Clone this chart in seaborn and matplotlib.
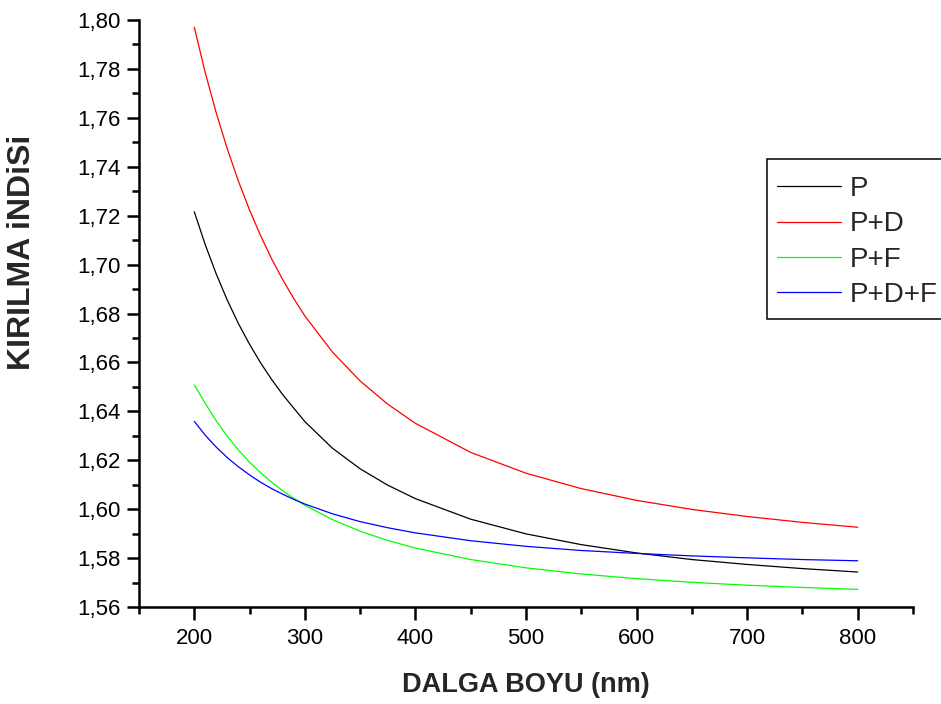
import numpy as np
import pandas as pd
import matplotlib
matplotlib.use("Agg")
import matplotlib.pyplot as plt
import seaborn as sns
from matplotlib.patches import Rectangle
from matplotlib.ticker import MultipleLocator, FixedLocator

# Wavelength (nm)
wavelength = [200, 210, 220, 230, 240, 250, 260, 270, 280, 290, 300,
              325, 350, 375, 400, 450, 500, 550, 600, 650, 700, 750, 800]

# Refractive index of each film
n_P = [1.7216, 1.7080, 1.6960, 1.6853, 1.6758, 1.6674, 1.6598, 1.6530,
       1.6468, 1.6413, 1.6358, 1.6249, 1.6165, 1.6098, 1.6043, 1.5959,
       1.5899, 1.5855, 1.5821, 1.5794, 1.5774, 1.5757, 1.5743]
n_PD = [1.7970, 1.7783, 1.7618, 1.7471, 1.7340, 1.7223, 1.7118, 1.7023,
        1.6938, 1.6861, 1.6790, 1.6642, 1.6524, 1.6429, 1.6351, 1.6232,
        1.6147, 1.6084, 1.6036, 1.5999, 1.5970, 1.5946, 1.5926]
n_PF = [1.6508, 1.6432, 1.6360, 1.6297, 1.6241, 1.6192, 1.6149, 1.6110,
        1.6075, 1.6044, 1.6016, 1.5957, 1.5910, 1.5872, 1.5841, 1.5794,
        1.5760, 1.5735, 1.5716, 1.5701, 1.5689, 1.5680, 1.5672]
n_PDF = [1.6359, 1.6302, 1.6253, 1.6210, 1.6173, 1.6140, 1.6110, 1.6084,
         1.6061, 1.6040, 1.6021, 1.5981, 1.5949, 1.5924, 1.5903, 1.5871,
         1.5848, 1.5831, 1.5819, 1.5809, 1.5801, 1.5794, 1.5789]

series_names = ["P", "P+D", "P+F", "P+D+F"]
series_colors = ["#000000", "#FF0000", "#00FF00", "#0000FF"]

x_major_ticks = [200, 300, 400, 500, 600, 700, 800]
y_major_ticks = [1.56, 1.58, 1.60, 1.62, 1.64, 1.66, 1.68, 1.70, 1.72,
                 1.74, 1.76, 1.78, 1.80]
y_tick_labels = [f"{v:.2f}".replace(".", ",") for v in y_major_ticks]

frames = []
for name, vals in zip(series_names, [n_P, n_PD, n_PF, n_PDF]):
    frames.append(pd.DataFrame({"wl": wavelength, "n": vals, "film": name}))
df = pd.concat(frames, ignore_index=True)

sns.set_style("ticks")
plt.rcParams["font.family"] = ["Liberation Sans", "DejaVu Sans"]

W, H = 941, 704
fig = plt.figure(figsize=(W / 100, H / 100), dpi=100)
ax = fig.add_axes([139 / W, 1 - 607 / H, (913 - 139) / W, (607 - 20) / H])

sns.lineplot(data=df, x="wl", y="n", hue="film", hue_order=series_names,
             palette=series_colors, linewidth=0.9, ax=ax, legend=False)

ax.set_xlim(150, 850)
ax.set_ylim(1.56, 1.80)
ax.xaxis.set_major_locator(FixedLocator(x_major_ticks))
ax.xaxis.set_minor_locator(MultipleLocator(50))
ax.yaxis.set_major_locator(FixedLocator(y_major_ticks))
ax.set_yticklabels(y_tick_labels)
ax.yaxis.set_minor_locator(MultipleLocator(0.01))

for side in ["top", "right"]:
    ax.spines[side].set_visible(False)
for side in ["left", "bottom"]:
    ax.spines[side].set_linewidth(1.8)
    ax.spines[side].set_color("black")

ax.tick_params(which="major", direction="out", length=9, width=1.8,
               labelsize=16, colors="black", pad=4)
ax.tick_params(axis="x", which="major", pad=6)
ax.tick_params(which="minor", direction="out", length=5, width=1.8, colors="black")
ax.set_xlabel("")
ax.set_ylabel("")

fig.text(526 / W, 1 - 685 / H, "DALGA BOYU (nm)", ha="center", va="center",
         fontsize=19.5, fontweight="bold")
fig.text(22 / W, 1 - 252 / H, "KIRILMA iNDiSi", ha="center", va="center",
         rotation=90, fontsize=23, fontweight="bold")

# Legend box: a plain rectangle running off the right edge of the figure
fig.patches.append(Rectangle((767 / W, 1 - 319 / H), 200 / W, (319 - 159) / H,
                             transform=fig.transFigure, facecolor="white",
                             edgecolor="black", linewidth=1.1, zorder=5))

handles = [plt.Line2D([], [], color=c, linewidth=0.9) for c in series_colors]
leg = fig.legend(handles, series_names, loc="center left",
                 bbox_to_anchor=(777 / W, 1 - 242 / H),
                 bbox_transform=fig.transFigure, fontsize=20, frameon=False,
                 handlelength=2.3, handletextpad=0.33, borderpad=0,
                 labelspacing=0.34, borderaxespad=0)
leg.set_zorder(6)

fig.savefig("out.png", dpi=100)
